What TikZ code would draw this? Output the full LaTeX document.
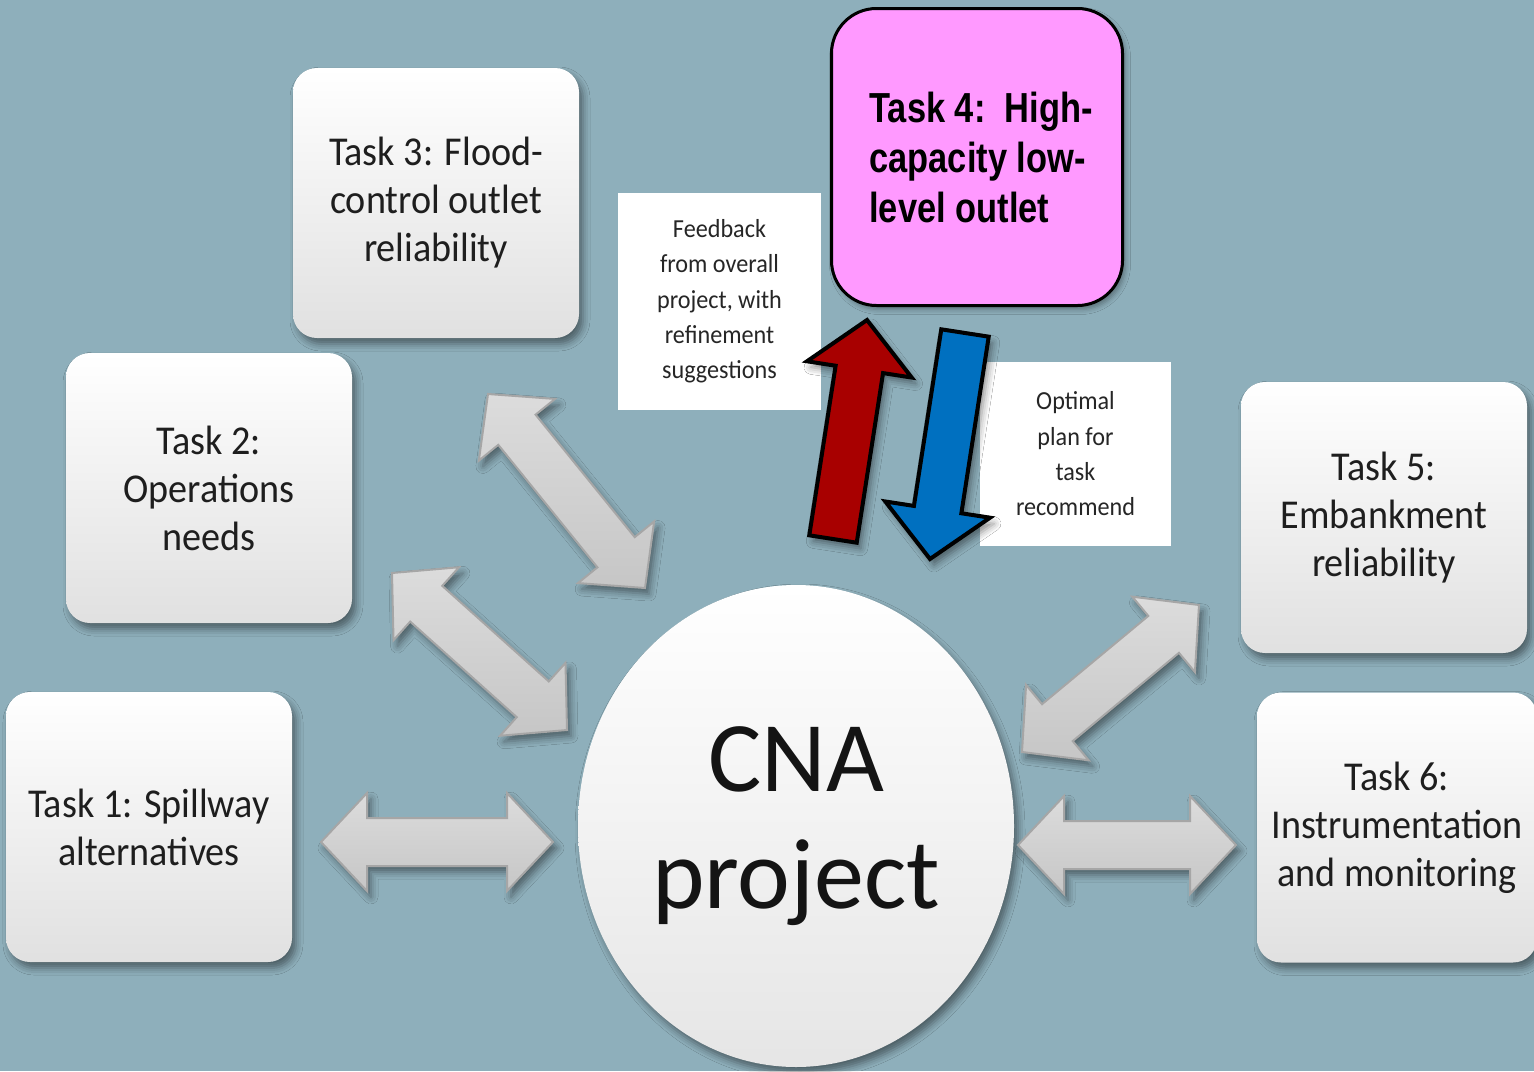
\documentclass[tikz,border=0pt]{standalone}
\usepackage{fontspec}
\setmainfont{Carlito}
\newfontfamily\taskfont[FakeStretch=0.93]{Carlito}
\newfontfamily\taskfourfont[FakeStretch=0.82]{Liberation Sans}
\usetikzlibrary{calc,shapes.geometric,shadows.blur}
\definecolor{bg}{HTML}{8EAFBB}
\definecolor{pinkbox}{HTML}{FF99FF}
\definecolor{redarrow}{HTML}{A80000}
\definecolor{bluearrow}{HTML}{0070C0}
\definecolor{gedge}{HTML}{A6A6A6}
\definecolor{gtop}{HTML}{DCDCDC}
\definecolor{gbot}{HTML}{C6C6C6}
\definecolor{txt}{HTML}{1E1E1E}
\newcommand\grayarrow[2]{%
 \path[garrow] (#1)
  -- ($(#1)!46pt!(#2)!49pt!90:(#2)$)
  -- ($(#1)!46pt!(#2)!24pt!90:(#2)$)
  -- ($(#2)!46pt!(#1)!24pt!-90:(#1)$)
  -- ($(#2)!46pt!(#1)!49pt!-90:(#1)$)
  -- (#2)
  -- ($(#2)!46pt!(#1)!49pt!90:(#1)$)
  -- ($(#2)!46pt!(#1)!24pt!90:(#1)$)
  -- ($(#1)!46pt!(#2)!24pt!-90:(#2)$)
  -- ($(#1)!46pt!(#2)!49pt!-90:(#2)$)
  -- cycle;}
\newcommand\blockarrow[3]{%
 \path[#1] ($(#2)!24pt!90:(#3)$)
  -- ($(#3)!50pt!(#2)!24pt!-90:(#2)$)
  -- ($(#3)!50pt!(#2)!53pt!-90:(#2)$)
  -- (#3)
  -- ($(#3)!50pt!(#2)!53pt!90:(#2)$)
  -- ($(#3)!50pt!(#2)!24pt!90:(#2)$)
  -- ($(#2)!24pt!-90:(#3)$)
  -- cycle;}
\begin{document}
\begin{tikzpicture}[x=1pt,y=-1pt,
  softshadow/.style={blur shadow={shadow xshift=4pt, shadow yshift=-6pt, shadow opacity=45, shadow blur radius=7pt}},
  taskbox/.style={rounded corners=24pt, minimum width=286pt, minimum height=270pt,
    inner sep=0pt, top color=white, middle color=white, bottom color=black!12,
    align=center, text=txt, font=\taskfont\fontsize{41}{48}\selectfont, softshadow},
  notebox/.style={fill=white, inner sep=0pt, align=center, text=black!85,
    font=\taskfont\fontsize{26}{35.3}\selectfont},
  garrow/.style={draw=gedge, line width=2pt, top color=gtop, bottom color=gbot,
    line join=miter, softshadow},
  redblock/.style={draw=black, line width=4pt, fill=redarrow, line join=miter, softshadow},
  blueblock/.style={draw=black, line width=4pt, fill=bluearrow, line join=miter, softshadow}]
\fill[bg] (0,0) rectangle (1534,1071);
\useasboundingbox (0,0) rectangle (1534,1071);

% task boxes
\node[taskbox] (t3) at (436,203) {Task 3: Flood-\\control outlet\\reliability};
\node[taskbox] (t2) at (209,488) {Task 2:\\Operations\\needs};
\node[taskbox] (t1) at (149,827) {Task 1: Spillway\\alternatives};
\node[taskbox, minimum height=271pt] (t5) at (1384,517.5) {Task 5:\\Embankment\\reliability};
\node[taskbox, minimum width=280pt] (t6) at (1397,827.5) {Task 6:\\Instrumentation\\and monitoring};

% note boxes
\node[notebox, minimum width=203pt, minimum height=217pt] (fb) at (719.5,301.5)
  {Feedback\\from overall\\project, with\\refinement\\suggestions};
\node[notebox, minimum width=191pt, minimum height=184pt] (op) at (1075.5,454)
  {Optimal\\plan for\\task\\recommend};

% task 4
\node[rounded corners=45pt, minimum width=291pt, minimum height=297pt, inner sep=0pt,
  fill=pinkbox, draw=black, line width=3pt, align=left, text=black,
  font=\taskfourfont\bfseries\fontsize{42}{50}\selectfont,
  blur shadow={shadow xshift=3pt, shadow yshift=-4pt, shadow opacity=35, shadow blur radius=5pt}]
  (t4) at (977,157) {\hspace*{8pt}Task 4:\ \ High-\\\hspace*{8pt}capacity low-\\\hspace*{8pt}level outlet};

% central project
\node[ellipse, minimum width=436pt, minimum height=482pt, inner sep=0pt,
  top color=white, middle color=white, bottom color=black!10, text=black!92,
  align=center, font=\fontsize{100}{117}\selectfont, softshadow]
  (cna) at (796,826) {CNA\\project};

% gray double arrows
\coordinate (a1s) at (321,842); \coordinate (a1e) at (553,842);
\coordinate (a2s) at (392,573); \coordinate (a2e) at (567,730);
\coordinate (a3s) at (488,394); \coordinate (a3e) at (645,588);
\coordinate (a5s) at (1199,605); \coordinate (a5e) at (1022,752);
\coordinate (a6s) at (1018,845); \coordinate (a6e) at (1236,845);
\grayarrow{a1s}{a1e}
\grayarrow{a2s}{a2e}
\grayarrow{a3s}{a3e}
\grayarrow{a5s}{a5e}
\grayarrow{a6s}{a6e}

% red and blue arrows
\coordinate (rb) at (833,539); \coordinate (rt) at (867,320);
\coordinate (bb) at (965,333); \coordinate (bt) at (930,559);
\blockarrow{redblock}{rb}{rt}
\blockarrow{blueblock}{bb}{bt}
\end{tikzpicture}
\end{document}
